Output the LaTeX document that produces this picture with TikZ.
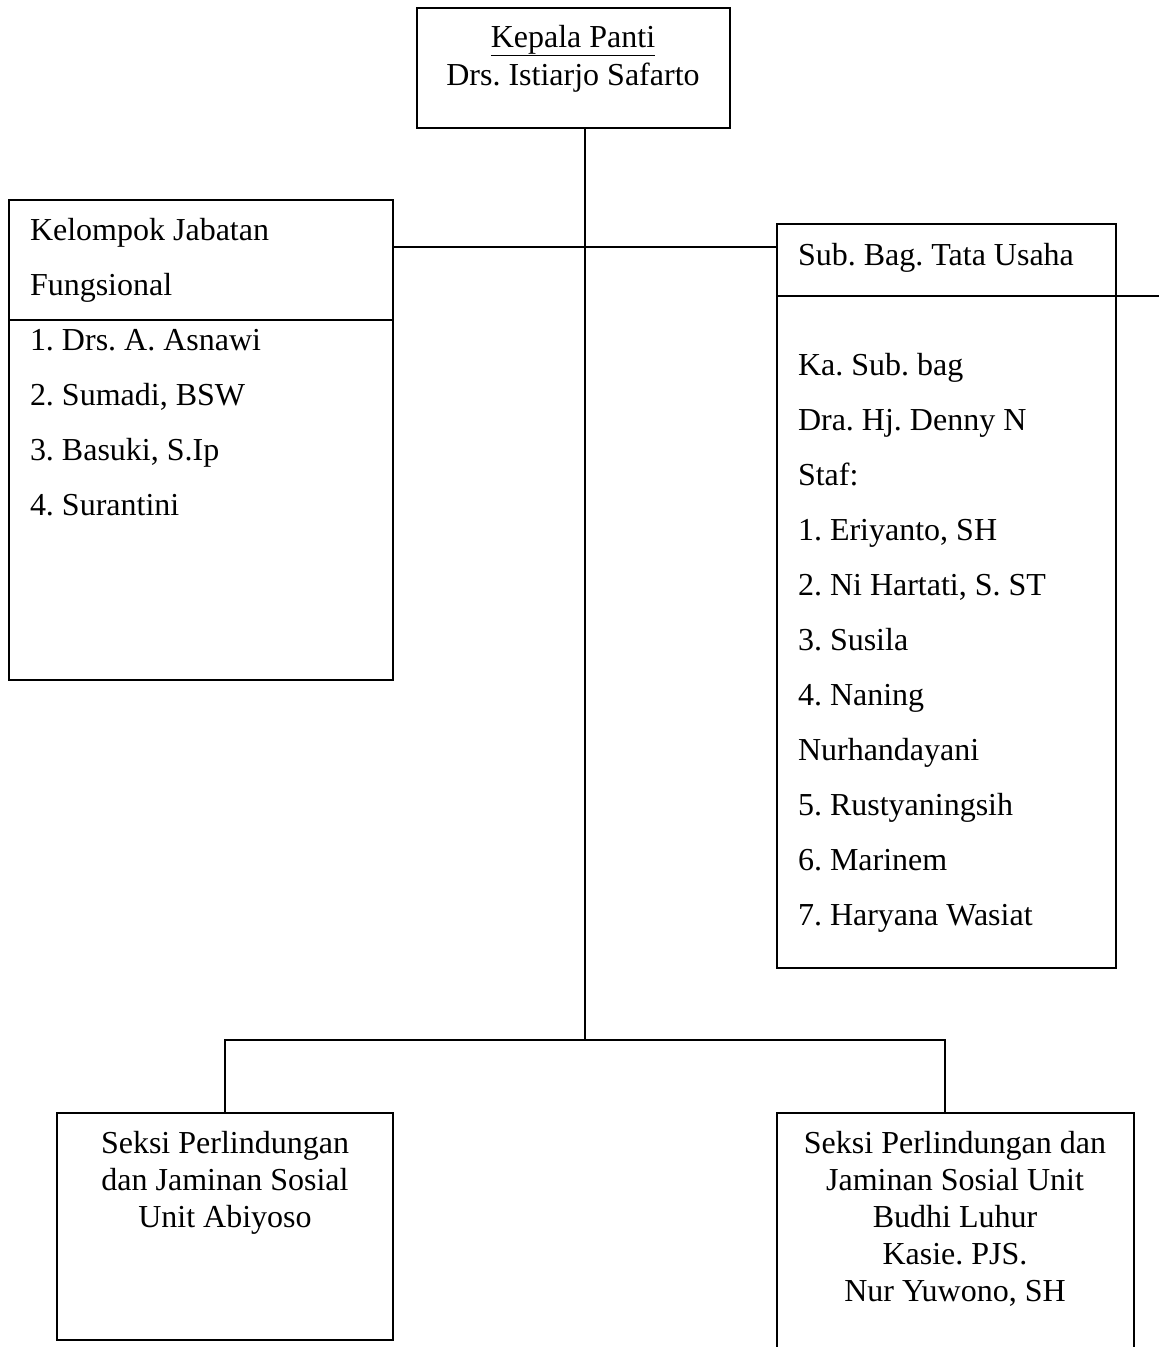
\documentclass[tikz,border=0pt]{standalone}
\usepackage{fontspec}
\setmainfont{Liberation Serif}
\frenchspacing
\begin{document}
\begin{tikzpicture}[x=1pt,y=-1pt,line width=1.3pt,
  boxshape/.style={draw,rectangle,inner sep=0pt,outer sep=0pt},
  txt/.style={inner sep=0pt,outer sep=0pt,font=\fontsize{32}{37}\selectfont\frenchspacing},
  ltxt/.style={txt,anchor=base west},
  ctxt/.style={txt,anchor=base}]
\useasboundingbox (0,0) rectangle (1159,1347);
% boxes
\node[boxshape,minimum width=313pt,minimum height=120pt] (kepala) at (573.5,68) {};
\node[boxshape,minimum width=384pt,minimum height=480pt] (kjf) at (201,440) {};
\node[boxshape,minimum width=339pt,minimum height=744pt] (sbtu) at (946.5,596) {};
\node[boxshape,minimum width=336pt,minimum height=227pt] (abi) at (225,1226.5) {};
\node[rectangle,inner sep=0pt,outer sep=0pt,minimum width=357pt,minimum height=234pt] (budhi) at (955.5,1230) {};
\draw (budhi.south west) -- (budhi.north west) -- (budhi.north east) -- (budhi.south east);
% dividers
\coordinate (kjfdivL) at (9,320);
\coordinate (kjfdivR) at (393,320);
\draw (kjfdivL) -- (kjfdivR);
\coordinate (sbdivL) at (777,296);
\coordinate (edgeR) at (1159,296);
\draw (sbdivL) -- (edgeR);
% connectors
\coordinate (ctop) at (585,128);
\coordinate (cbot) at (585,1040);
\coordinate (hl) at (393,247);
\coordinate (hr) at (777,247);
\coordinate (bl) at (225,1040);
\coordinate (br) at (945,1040);
\coordinate (blb) at (225,1113);
\coordinate (brb) at (945,1113);
\draw (ctop) -- (cbot);
\draw (hl) -- (hr);
\draw (blb) -- (bl) -- (br) -- (brb);
% texts
\node[ctxt] (t1) at (573,47) {\underline{Kepala Panti}};
\node[ctxt] (t2) at (573,85) {Drs. Istiarjo Safarto};
\node[ltxt] (k1) at (30,240) {Kelompok Jabatan};
\node[ltxt] (k2) at (30,295) {Fungsional};
\node[ltxt] (k3) at (30,350) {1. Drs. A. Asnawi};
\node[ltxt] (k4) at (30,405) {2. Sumadi, BSW};
\node[ltxt] (k5) at (30,460) {3. Basuki, S.Ip};
\node[ltxt] (k6) at (30,515) {4. Surantini};
\node[ltxt] (s0) at (798,265) {Sub. Bag. Tata Usaha};
\node[ltxt] (s1) at (798,375) {Ka. Sub. bag};
\node[ltxt] (s2) at (798,430) {Dra. Hj. Denny N};
\node[ltxt] (s3) at (798,485) {Staf:};
\node[ltxt] (s4) at (798,540) {1. Eriyanto, SH};
\node[ltxt] (s5) at (798,595) {2. Ni Hartati, S. ST};
\node[ltxt] (s6) at (798,650) {3. Susila};
\node[ltxt] (s7) at (798,705) {4. Naning};
\node[ltxt] (s8) at (798,760) {Nurhandayani};
\node[ltxt] (s9) at (798,815) {5. Rustyaningsih};
\node[ltxt] (s10) at (798,870) {6. Marinem};
\node[ltxt] (s11) at (798,925) {7. Haryana Wasiat};
\node[ctxt] (a1) at (225,1153) {Seksi Perlindungan};
\node[ctxt] (a2) at (225,1190) {dan Jaminan Sosial};
\node[ctxt] (a3) at (225,1227) {Unit Abiyoso};
\node[ctxt] (b1) at (955,1153) {Seksi Perlindungan dan};
\node[ctxt] (b2) at (955,1190) {Jaminan Sosial Unit};
\node[ctxt] (b3) at (955,1227) {Budhi Luhur};
\node[ctxt] (b4) at (955,1264) {Kasie. PJS.};
\node[ctxt] (b5) at (955,1301) {Nur Yuwono, SH};
\end{tikzpicture}
\end{document}
